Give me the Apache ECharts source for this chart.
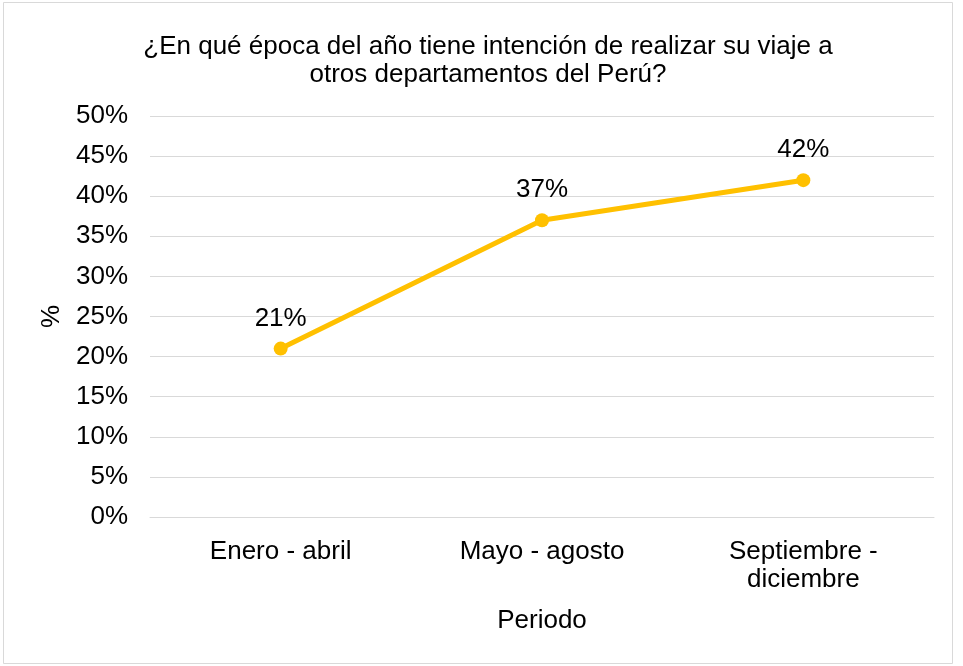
<!DOCTYPE html>
<html>
<head>
<meta charset="utf-8">
<script src="https://cdn.jsdelivr.net/npm/echarts@6/dist/echarts.min.js"></script>
<style>
  html, body { margin: 0; padding: 0; background: #fff; }
  #chart { width: 963px; height: 666px; }
</style>
</head>
<body>
<div id="chart"></div>
<script>
// data
const periodos = ['Enero - abril', 'Mayo - agosto', 'Septiembre -\ndiciembre'];
const porcentajes = [21, 37, 42];
const yTicks = [0, 5, 10, 15, 20, 25, 30, 35, 40, 45, 50];

const font = '"Liberation Sans", Arial, sans-serif';
const chart = echarts.init(document.getElementById('chart'));

const option = {
  animation: false,
  backgroundColor: '#fff',
  graphic: [
    {
      type: 'rect',
      shape: { x: 3.5, y: 2.5, width: 949, height: 661 },
      style: { fill: 'none', stroke: '#d9d9d9', lineWidth: 1 },
    },
  ],
  title: {
    text: '¿En qué época del año tiene intención de realizar su viaje a\notros departamentos del Perú?',
    left: 483,
    top: 28,
    textAlign: 'center',
    textStyle: {
      fontFamily: font,
      fontSize: 26,
      fontWeight: 'normal',
      color: '#000',
      lineHeight: 28,
    },
  },
  grid: {
    left: 150,
    right: 29,
    top: 116,
    bottom: 149,
  },
  xAxis: {
    type: 'category',
    data: periodos,
    name: 'Periodo',
    nameLocation: 'middle',
    nameGap: 91,
    nameTextStyle: { fontFamily: font, fontSize: 26, color: '#000' },
    axisLine: { show: true, lineStyle: { color: '#d9d9d9', width: 1 } },
    axisTick: { show: false },
    axisLabel: {
      fontFamily: font,
      fontSize: 26,
      color: '#000',
      margin: 21,
      lineHeight: 28,
      interval: 0,
    },
  },
  yAxis: {
    type: 'value',
    min: yTicks[0],
    max: yTicks[yTicks.length - 1],
    interval: 5,
    name: '%',
    nameLocation: 'middle',
    nameGap: 83,
    nameTextStyle: { fontFamily: font, fontSize: 26, color: '#000' },
    axisLine: { show: false },
    axisTick: { show: false },
    axisLabel: {
      fontFamily: font,
      fontSize: 26,
      color: '#000',
      margin: 22,
      padding: [4, 0, 0, 0],
      formatter: (v) => v + '%',
    },
    splitLine: { lineStyle: { color: '#d9d9d9', width: 1 } },
  },
  series: [
    {
      type: 'line',
      data: porcentajes,
      color: '#FFC000',
      lineStyle: { width: 5, color: '#FFC000' },
      symbol: 'circle',
      symbolSize: 14,
      itemStyle: { color: '#FFC000' },
      label: {
        show: true,
        position: 'top',
        distance: 10,
        fontFamily: font,
        fontSize: 26,
        color: '#000',
        formatter: (p) => p.value + '%',
      },
    },
  ],
};

chart.setOption(option);
</script>
</body>
</html>
